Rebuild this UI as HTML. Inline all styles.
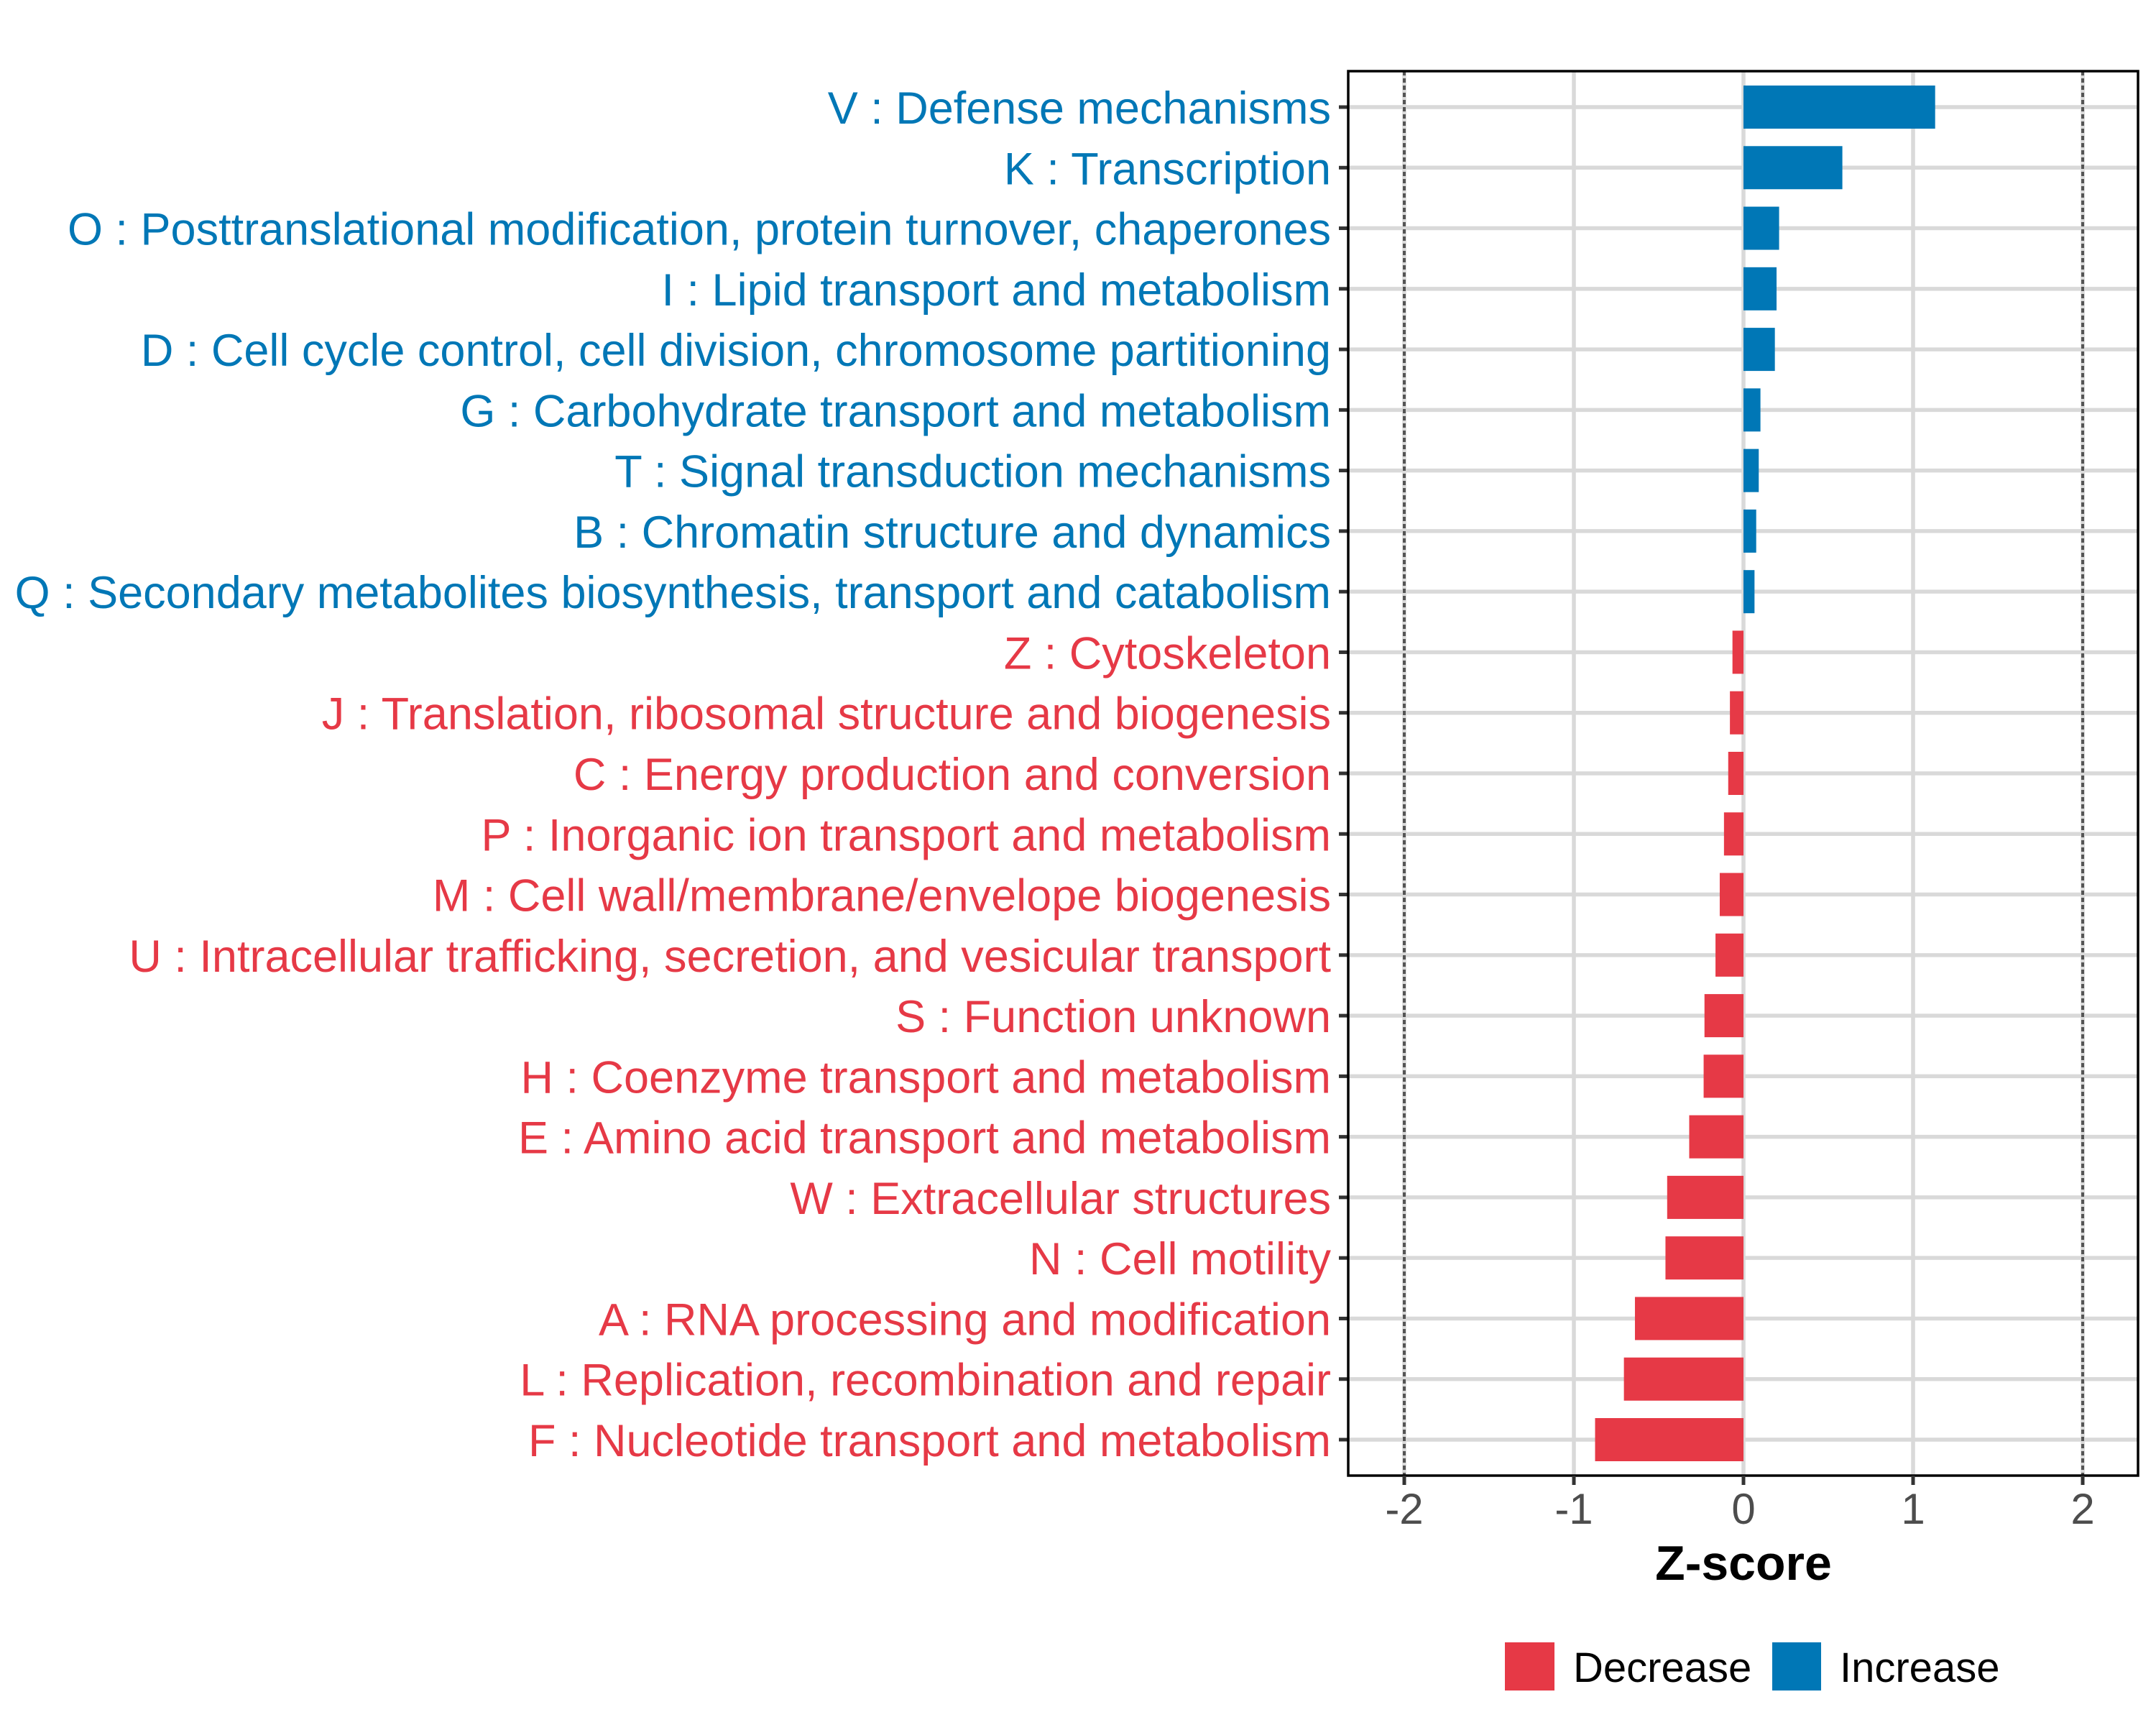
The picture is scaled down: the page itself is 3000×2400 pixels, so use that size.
<!DOCTYPE html>
<html><head><meta charset="utf-8"><style>
html,body{margin:0;padding:0;background:#fff;}
svg{display:block;font-family:"Liberation Sans",Arial,sans-serif;}
</style></head><body>
<svg id="chart" width="3000" height="2400" viewBox="0 0 3000 2400" xmlns="http://www.w3.org/2000/svg">
<rect width="3000" height="2400" fill="#fff"/>
<g id="grid"></g>
<g id="bars"></g>
<g id="ylabels"></g>
<g id="xaxis"></g>
<text x="2426" y="2198" text-anchor="middle" font-size="68" font-weight="bold" fill="#000">Z-score</text>
<g>
<rect x="2094" y="2285" width="69" height="67" fill="#E63946"/>
<text x="2189" y="2340" font-size="58" fill="#000">Decrease</text>
<rect x="2466" y="2285" width="68" height="67" fill="#0077B6"/>
<text x="2560" y="2340" font-size="58" fill="#000">Increase</text>
</g>
</svg>
<script>
const categories = ["V : Defense mechanisms","K : Transcription","O : Posttranslational modification, protein turnover, chaperones","I : Lipid transport and metabolism","D : Cell cycle control, cell division, chromosome partitioning","G : Carbohydrate transport and metabolism","T : Signal transduction mechanisms","B : Chromatin structure and dynamics","Q : Secondary metabolites biosynthesis, transport and catabolism","Z : Cytoskeleton","J : Translation, ribosomal structure and biogenesis","C : Energy production and conversion","P : Inorganic ion transport and metabolism","M : Cell wall/membrane/envelope biogenesis","U : Intracellular trafficking, secretion, and vesicular transport","S : Function unknown","H : Coenzyme transport and metabolism","E : Amino acid transport and metabolism","W : Extracellular structures","N : Cell motility","A : RNA processing and modification","L : Replication, recombination and repair","F : Nucleotide transport and metabolism"];
const zscores = [1.13,0.583,0.21,0.195,0.185,0.1,0.09,0.075,0.065,-0.065,-0.08,-0.09,-0.115,-0.14,-0.165,-0.23,-0.235,-0.32,-0.45,-0.46,-0.64,-0.705,-0.875];
const xTicks = [-2,-1,0,1,2];
const xTickLabels = ["-2","-1","0","1","2"];
const refLines = [-2,2];

const NS="http://www.w3.org/2000/svg";
const PL=1876, PR=2975, PT=99, PB=2053;
const x = v => 2426 + v*236;
const y = i => 149 + i*((2003-149)/22);
const BLUE="#0077B6", RED="#E63946";
function mk(tag, attrs, parent){const e=document.createElementNS(NS,tag);for(const k in attrs)e.setAttribute(k,attrs[k]);parent.appendChild(e);return e;}
const grid=document.getElementById('grid'), bars=document.getElementById('bars'), yl=document.getElementById('ylabels'), xa=document.getElementById('xaxis');

categories.forEach((c,i)=>{
  const g=mk('line',{x1:PL,x2:PR,y1:y(i),y2:y(i),stroke:'#d9d9d9','stroke-width':5.5},grid);
  
  
});
xTicks.forEach(t=>{
  const g=mk('line',{x1:x(t),x2:x(t),y1:PT,y2:PB,stroke:'#d9d9d9','stroke-width':5.5},grid);
  
  
});
refLines.forEach(t=>{
  const g=mk('line',{x1:x(t),x2:x(t),y1:PT,y2:PB,stroke:'#555','stroke-width':4,'stroke-dasharray':'6 4'},grid);
  
  
});
zscores.forEach((v,i)=>{
  const x0=Math.min(x(0),x(v)), w=Math.abs(x(v)-x(0));
  const r=mk('rect',{x:x0,y:y(i)-30,width:w,height:60,fill:v>=0?BLUE:RED},bars);
  
  
  const t=mk('text',{x:1852,y:y(i)+23,'text-anchor':'end','font-size':63,fill:v>=0?BLUE:RED},yl);
  t.textContent=categories[i];
  
  
  const tk=mk('line',{x1:PL-13,x2:PL,y1:y(i),y2:y(i),stroke:'#333','stroke-width':5},yl);
  
  
});
const border=mk('rect',{x:PL,y:PT,width:PR-PL,height:PB-PT,fill:'none',stroke:'#000','stroke-width':3.5},xa);


xTicks.forEach((t,i)=>{
  const tk=mk('line',{x1:x(t),x2:x(t),y1:PB,y2:PB+13,stroke:'#333','stroke-width':5},xa);
  
  
  const tl=mk('text',{x:x(t),y:2120,'text-anchor':'middle','font-size':60,fill:'#4d4d4d'},xa);
  tl.textContent=xTickLabels[i];
  
  
});
</script>
</body></html>
